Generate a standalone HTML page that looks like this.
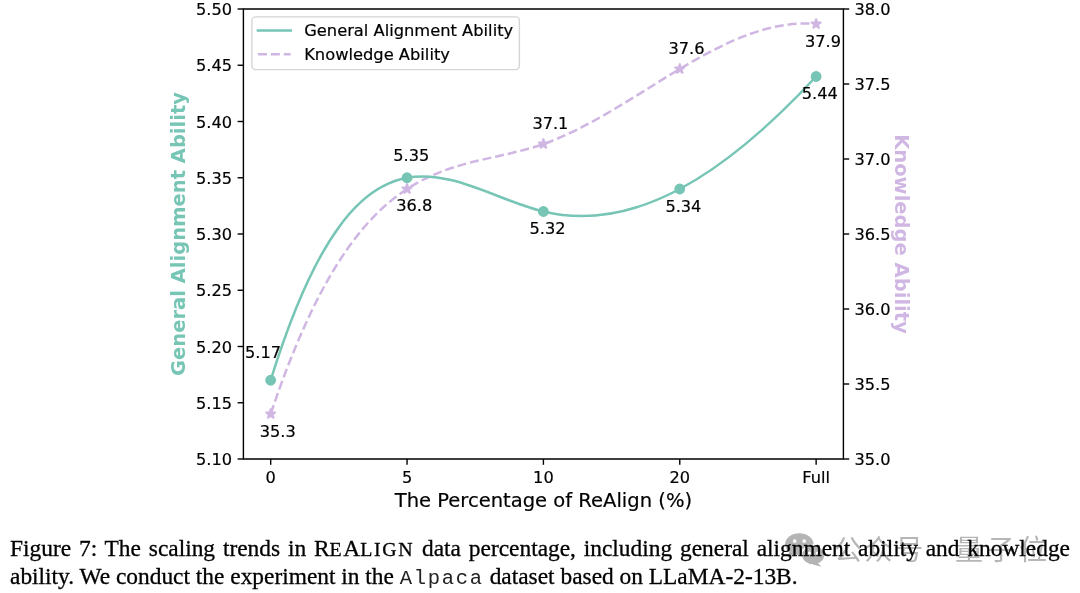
<!DOCTYPE html>
<html><head><meta charset="utf-8"><title>Figure 7</title>
<style>
html,body{margin:0;padding:0;background:#fff;}
body{width:1080px;height:593px;position:relative;overflow:hidden;}
svg,.cap,.wm{will-change:transform;}
.cap{position:absolute;left:10px;font-family:"Liberation Serif","Times New Roman",serif;font-size:23.4px;color:#000;white-space:nowrap;-webkit-text-stroke:0.3px #000;}
.l1{top:535px;width:1060px;text-align:justify;text-align-last:justify;}
.l2{top:563px;}
.sc{font-size:0.85em;letter-spacing:1.6px;}
.tt{font-family:"Liberation Mono",monospace;-webkit-text-stroke:0;color:#222;font-size:20.5px;letter-spacing:1.7px;}
.wm{position:absolute;left:0;top:0;font-family:"Liberation Sans","Noto Sans CJK SC",sans-serif;font-weight:400;font-size:28px;line-height:28px;color:#b6b6b6;white-space:nowrap;}
.wx{position:absolute;left:784.5px;top:533px;}
.wt1{position:absolute;left:834px;top:536.5px;letter-spacing:2.6px;}
.wt2{position:absolute;left:955px;top:536.5px;letter-spacing:4px;}
</style></head><body>
<svg width="1080" height="520" viewBox="0 0 1080 520" style="position:absolute;left:0;top:0"><g font-family="DejaVu Sans, sans-serif" font-size="16.2" fill="#000" stroke-width="0.2"><path d="M270.673,414.000 C316.127,278.167 361.582,218.583 407.036,189.000 C452.491,159.417 497.945,159.833 543.400,144.000 C588.855,128.167 634.309,96.083 679.764,69.000 C725.218,41.917 770.673,19.833 816.127,24.000" fill="none" stroke="#d0b7e3" stroke-width="2.5" stroke-dasharray="9.03,3.90" /><path d="M270.673,380.250 C316.127,233.688 361.582,186.031 407.036,177.750 C452.491,169.469 497.945,200.562 543.400,211.500 C588.855,222.437 634.309,213.219 679.764,189.000 C725.218,164.781 770.673,125.563 816.127,76.500" fill="none" stroke="#76c5b5" stroke-width="2.5" /><polygon points="270.67,408.60 271.89,412.33 275.81,412.33 272.63,414.64 273.85,418.37 270.67,416.06 267.50,418.37 268.71,414.64 265.54,412.33 269.46,412.33" fill="#d0b7e3" stroke="#d0b7e3" stroke-width="1.65" stroke-linejoin="bevel"/><polygon points="407.04,183.60 408.25,187.33 412.17,187.33 409.00,189.64 410.21,193.37 407.04,191.06 403.86,193.37 405.07,189.64 401.90,187.33 405.82,187.33" fill="#d0b7e3" stroke="#d0b7e3" stroke-width="1.65" stroke-linejoin="bevel"/><polygon points="543.40,138.60 544.61,142.33 548.54,142.33 545.36,144.64 546.57,148.37 543.40,146.06 540.23,148.37 541.44,144.64 538.26,142.33 542.19,142.33" fill="#d0b7e3" stroke="#d0b7e3" stroke-width="1.65" stroke-linejoin="bevel"/><polygon points="679.76,63.60 680.98,67.33 684.90,67.33 681.73,69.64 682.94,73.37 679.76,71.06 676.59,73.37 677.80,69.64 674.63,67.33 678.55,67.33" fill="#d0b7e3" stroke="#d0b7e3" stroke-width="1.65" stroke-linejoin="bevel"/><polygon points="816.13,18.60 817.34,22.33 821.26,22.33 818.09,24.64 819.30,28.37 816.13,26.06 812.95,28.37 814.17,24.64 810.99,22.33 814.91,22.33" fill="#d0b7e3" stroke="#d0b7e3" stroke-width="1.65" stroke-linejoin="bevel"/><circle cx="270.67" cy="380.25" r="4.6" fill="#76c5b5" stroke="#76c5b5" stroke-width="1.65" /><circle cx="407.04" cy="177.75" r="4.6" fill="#76c5b5" stroke="#76c5b5" stroke-width="1.65" /><circle cx="543.40" cy="211.50" r="4.6" fill="#76c5b5" stroke="#76c5b5" stroke-width="1.65" /><circle cx="679.76" cy="189.00" r="4.6" fill="#76c5b5" stroke="#76c5b5" stroke-width="1.65" /><circle cx="816.13" cy="76.50" r="4.6" fill="#76c5b5" stroke="#76c5b5" stroke-width="1.65" /><path d="M243.4,9.0 L843.4,9.0 M243.4,459.0 L843.4,459.0 M243.4,8.35 L243.4,459.65 M843.4,8.35 L843.4,459.65" stroke="#000" stroke-width="1.4" fill="none"/><line x1="237.6" y1="459.00" x2="243.4" y2="459.00" stroke="#000" stroke-width="1.4"/><text stroke="#000" x="232.0" y="465.10" text-anchor="end">5.10</text><line x1="237.6" y1="402.75" x2="243.4" y2="402.75" stroke="#000" stroke-width="1.4"/><text stroke="#000" x="232.0" y="408.85" text-anchor="end">5.15</text><line x1="237.6" y1="346.50" x2="243.4" y2="346.50" stroke="#000" stroke-width="1.4"/><text stroke="#000" x="232.0" y="352.60" text-anchor="end">5.20</text><line x1="237.6" y1="290.25" x2="243.4" y2="290.25" stroke="#000" stroke-width="1.4"/><text stroke="#000" x="232.0" y="296.35" text-anchor="end">5.25</text><line x1="237.6" y1="234.00" x2="243.4" y2="234.00" stroke="#000" stroke-width="1.4"/><text stroke="#000" x="232.0" y="240.10" text-anchor="end">5.30</text><line x1="237.6" y1="177.75" x2="243.4" y2="177.75" stroke="#000" stroke-width="1.4"/><text stroke="#000" x="232.0" y="183.85" text-anchor="end">5.35</text><line x1="237.6" y1="121.50" x2="243.4" y2="121.50" stroke="#000" stroke-width="1.4"/><text stroke="#000" x="232.0" y="127.60" text-anchor="end">5.40</text><line x1="237.6" y1="65.25" x2="243.4" y2="65.25" stroke="#000" stroke-width="1.4"/><text stroke="#000" x="232.0" y="71.35" text-anchor="end">5.45</text><line x1="237.6" y1="9.00" x2="243.4" y2="9.00" stroke="#000" stroke-width="1.4"/><text stroke="#000" x="232.0" y="15.10" text-anchor="end">5.50</text><line x1="843.4" y1="459.00" x2="849.1999999999999" y2="459.00" stroke="#000" stroke-width="1.4"/><text stroke="#000" x="854.4" y="465.10">35.0</text><line x1="843.4" y1="384.00" x2="849.1999999999999" y2="384.00" stroke="#000" stroke-width="1.4"/><text stroke="#000" x="854.4" y="390.10">35.5</text><line x1="843.4" y1="309.00" x2="849.1999999999999" y2="309.00" stroke="#000" stroke-width="1.4"/><text stroke="#000" x="854.4" y="315.10">36.0</text><line x1="843.4" y1="234.00" x2="849.1999999999999" y2="234.00" stroke="#000" stroke-width="1.4"/><text stroke="#000" x="854.4" y="240.10">36.5</text><line x1="843.4" y1="159.00" x2="849.1999999999999" y2="159.00" stroke="#000" stroke-width="1.4"/><text stroke="#000" x="854.4" y="165.10">37.0</text><line x1="843.4" y1="84.00" x2="849.1999999999999" y2="84.00" stroke="#000" stroke-width="1.4"/><text stroke="#000" x="854.4" y="90.10">37.5</text><line x1="843.4" y1="9.00" x2="849.1999999999999" y2="9.00" stroke="#000" stroke-width="1.4"/><text stroke="#000" x="854.4" y="15.10">38.0</text><line x1="270.67" y1="459.0" x2="270.67" y2="464.8" stroke="#000" stroke-width="1.4"/><text stroke="#000" x="270.67" y="482.5" text-anchor="middle">0</text><line x1="407.04" y1="459.0" x2="407.04" y2="464.8" stroke="#000" stroke-width="1.4"/><text stroke="#000" x="407.04" y="482.5" text-anchor="middle">5</text><line x1="543.40" y1="459.0" x2="543.40" y2="464.8" stroke="#000" stroke-width="1.4"/><text stroke="#000" x="543.40" y="482.5" text-anchor="middle">10</text><line x1="679.76" y1="459.0" x2="679.76" y2="464.8" stroke="#000" stroke-width="1.4"/><text stroke="#000" x="679.76" y="482.5" text-anchor="middle">20</text><line x1="816.13" y1="459.0" x2="816.13" y2="464.8" stroke="#000" stroke-width="1.4"/><text stroke="#000" x="816.13" y="482.5" text-anchor="middle">Full</text><text stroke="#000" x="543.40" y="507.4" text-anchor="middle" font-size="19.55">The Percentage of ReAlign (%)</text><text transform="translate(184.6,234.00) rotate(-90)" text-anchor="middle" font-size="19.55" font-weight="bold" fill="#76c5b5">General Alignment Ability</text><text transform="translate(894.7,234.00) rotate(90)" text-anchor="middle" font-size="19.55" font-weight="bold" fill="#d0b7e3">Knowledge Ability</text><text stroke="#000" x="263.0" y="357.8" text-anchor="middle">5.17</text><text stroke="#000" x="277.8" y="436.6" text-anchor="middle">35.3</text><text stroke="#000" x="411.3" y="161.0" text-anchor="middle">5.35</text><text stroke="#000" x="414.2" y="211.2" text-anchor="middle">36.8</text><text stroke="#000" x="550.4" y="129.3" text-anchor="middle">37.1</text><text stroke="#000" x="547.6" y="234.0" text-anchor="middle">5.32</text><text stroke="#000" x="686.5" y="54.4" text-anchor="middle">37.6</text><text stroke="#000" x="683.4" y="211.8" text-anchor="middle">5.34</text><text stroke="#000" x="823.0" y="46.8" text-anchor="middle">37.9</text><text stroke="#000" x="819.8" y="98.6" text-anchor="middle">5.44</text><rect x="251.9" y="16.9" width="267.5" height="52.7" rx="3.8" fill="#fff" fill-opacity="0.8" stroke="#d5d5d5" stroke-width="1.4"/><line x1="257.9" y1="30.4" x2="290.7" y2="30.4" stroke="#76c5b5" stroke-width="2.5" stroke-linecap="square"/><line x1="257.9" y1="54.2" x2="290.7" y2="54.2" stroke="#d0b7e3" stroke-width="2.5" stroke-dasharray="9.03,3.90"/><text stroke="#000" x="304.2" y="35.9" font-size="16.3">General Alignment Ability</text><text stroke="#000" x="304.2" y="59.7" font-size="16.3">Knowledge Ability</text></g></svg>
<div class="wm"><svg class="wx" width="42" height="36" viewBox="0 0 42 36"><ellipse cx="14.3" cy="11.2" rx="14.2" ry="10.9" fill="#b4b4b4"/><path d="M4.5,17 L3,24.5 L11,20.5 Z" fill="#b4b4b4"/><circle cx="9.7" cy="8.1" r="1.9" fill="#fff"/><circle cx="19.2" cy="8.1" r="1.9" fill="#fff"/><ellipse cx="28.2" cy="22.2" rx="11.8" ry="9.9" fill="#b4b4b4" stroke="#fff" stroke-width="1.6"/><path d="M32,29 L36.3,33.8 L28,31.5 Z" fill="#b4b4b4"/><circle cx="24.4" cy="20" r="1.5" fill="#fff"/><circle cx="32.2" cy="20" r="1.5" fill="#fff"/></svg><span class="wt1">公众号</span><span class="wt2">量子位</span></div>
<div class="cap l1">Figure 7: The scaling trends in R<span class="sc">E</span>A<span class="sc">LIGN</span> data percentage, including general alignment ability and knowledge</div>
<div class="cap l2">ability. We conduct the experiment in the <span class="tt">Alpaca</span> dataset based on LLaMA-2-13B.</div>
</body></html>
